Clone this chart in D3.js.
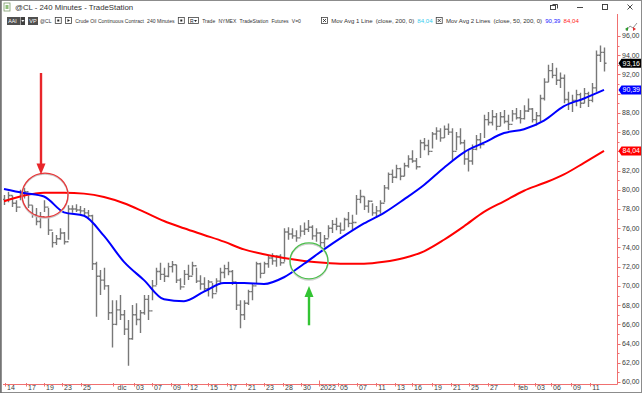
<!DOCTYPE html>
<html>
<head>
<meta charset="utf-8">
<script src="https://cdn.jsdelivr.net/npm/d3@7"></script>
<style>
  html, body { margin: 0; padding: 0; background: #fff; }
  svg { display: block; font-family: "Liberation Sans", Arial, sans-serif; }
</style>
</head>
<body>
<div id="chart"></div>
<script>
// 240 minute bars, @CL
const highs = [
  79.45, 79.8, 79.4, 78.9, 80.0, 80.2, 79.4, 78.4, 78.1, 77.7,
  78.9, 78.1, 75.6, 75.3, 76.0, 75.6, 78.4, 78.4, 78.5, 78.3,
  78.1, 77.9, 77.4, 72.5, 71.65, 71.9, 70.1, 68.5, 68.5, 69.05,
  67.5, 66.45, 68.0, 68.2, 67.5, 69.05, 69.05, 70.6, 71.9, 72.4,
  71.9, 72.4, 72.6, 72.2, 70.8, 71.65, 72.2, 72.5, 71.9, 71.1,
  70.9, 70.6, 70.3, 70.8, 71.9, 72.2, 72.5, 71.65, 70.3, 68.5,
  68.5, 69.6, 70.3, 72.5, 72.4, 72.5, 73.2, 73.4, 73.2, 73.3,
  76.0, 76.1, 76.0, 75.8, 76.3, 76.6, 76.85, 76.3, 76.0, 75.6,
  75.3, 76.3, 76.85, 77.1, 76.6, 77.1, 77.7, 77.4, 79.45, 80.0,
  79.3, 78.9, 78.6, 78.3, 78.9, 80.5, 81.8, 82.1, 82.6, 82.3,
  82.8, 83.6, 84.1, 83.3, 85.2, 85.4, 85.2, 86.0, 86.5, 86.4,
  86.7, 86.9, 86.4, 86.0, 86.4, 85.2, 84.1, 84.7, 85.7, 85.9,
  87.8, 88.1, 88.3, 88.0, 88.1, 88.3, 87.8, 88.3, 88.5, 88.3,
  88.8, 89.5, 88.5, 88.1, 89.9, 91.6, 93.0, 93.2, 92.7, 92.2,
  92.0, 90.2, 89.9, 90.4, 90.1, 90.6, 90.2, 91.1, 94.5, 95.0,
  94.8
];
const lows = [
  78.41, 78.7, 78.2, 77.7, 78.9, 79.1, 78.1, 77.1, 76.3, 76.0,
  77.7, 75.3, 74.0, 74.25, 74.8, 74.3, 74.8, 77.6, 77.7, 77.5,
  77.3, 77.1, 71.65, 66.8, 69.05, 69.6, 66.45, 63.6, 65.9, 66.45,
  64.9, 61.7, 64.4, 65.9, 65.1, 67.0, 66.45, 68.5, 70.1, 70.6,
  70.4, 70.9, 71.4, 70.3, 69.6, 70.1, 70.6, 71.1, 70.3, 69.6,
  69.4, 68.9, 68.7, 69.3, 70.3, 70.8, 71.1, 70.1, 67.5, 65.6,
  66.45, 68.0, 68.5, 70.3, 70.8, 71.3, 71.9, 72.2, 72.0, 72.1,
  72.5, 74.8, 74.9, 74.6, 75.1, 75.3, 75.6, 74.8, 74.6, 74.1,
  74.0, 75.0, 75.5, 75.8, 75.4, 75.8, 76.1, 75.8, 77.4, 78.6,
  77.9, 77.6, 77.3, 77.1, 77.5, 78.7, 80.0, 80.7, 81.2, 81.0,
  81.4, 82.3, 82.8, 82.1, 83.3, 84.1, 83.6, 84.3, 85.2, 85.0,
  85.4, 85.7, 83.1, 84.1, 84.7, 82.6, 81.9, 82.6, 84.1, 84.3,
  85.4, 86.7, 86.7, 86.2, 86.6, 86.9, 86.2, 87.1, 87.3, 86.9,
  87.3, 88.1, 87.0, 86.7, 87.1, 89.3, 91.2, 91.6, 90.9, 90.6,
  89.0, 88.3, 88.1, 88.7, 88.5, 89.0, 88.6, 89.1, 90.2, 93.3,
  92.3
];
const closes = [
  78.9, 79.4, 78.6, 78.2, 79.6, 79.8, 78.4, 77.4, 76.7, 77.2,
  78.2, 75.8, 74.5, 74.9, 75.5, 74.6, 78.0, 78.0, 77.9, 77.8,
  77.6, 77.3, 72.3, 71.0, 70.6, 70.0, 67.2, 66.0, 67.5, 67.0,
  65.5, 64.5, 67.0, 66.5, 67.2, 68.6, 67.4, 70.0, 71.5, 71.2,
  71.0, 72.0, 72.2, 70.6, 69.9, 71.2, 71.0, 72.1, 70.5, 70.2,
  69.7, 70.4, 69.2, 70.5, 71.4, 71.8, 71.5, 70.4, 68.0, 67.0,
  68.2, 69.4, 70.0, 72.3, 71.3, 72.3, 72.9, 72.6, 73.1, 72.4,
  75.6, 75.4, 75.2, 75.0, 75.7, 75.9, 76.1, 75.2, 75.5, 74.5,
  74.9, 76.0, 76.4, 76.2, 75.8, 76.9, 76.5, 76.6, 79.0, 79.3,
  78.3, 78.8, 77.6, 77.8, 78.6, 80.2, 81.6, 81.3, 82.2, 81.4,
  82.5, 83.2, 83.0, 82.4, 84.9, 84.6, 84.0, 85.8, 86.1, 85.4,
  86.3, 86.0, 84.0, 85.5, 84.9, 83.2, 83.0, 84.2, 85.2, 84.7,
  87.3, 87.0, 87.6, 86.6, 87.6, 87.1, 86.8, 87.9, 87.5, 87.4,
  88.2, 88.4, 87.3, 87.7, 89.5, 91.2, 92.4, 91.9, 91.4, 91.6,
  89.4, 89.0, 89.3, 89.9, 89.0, 90.0, 89.3, 90.6, 94.0, 94.3,
  93.16
];
const firstOpen = 79.0;

// moving averages, sampled every 5 bars
const maStep = 5;
const ma50 = [80.08, 79.66, 79.3, 77.65, 77.3, 75.2, 72.5, 70.6, 68.6, 68.4,
  69.4, 70.3, 70.3, 70.2, 70.9, 72.3, 73.8, 75.2, 76.5, 77.6,
  79.0, 80.5, 82.3, 83.9, 84.9, 85.9, 86.3, 87.2, 88.7, 89.5, 90.39];
const ma200 = [78.8, 79.4, 79.7, 79.7, 79.6, 79.25, 78.6, 77.7, 76.75, 76.0,
  75.3, 74.6, 73.8, 73.3, 72.9, 72.6, 72.4, 72.3, 72.3, 72.5,
  72.9, 73.6, 74.8, 76.2, 77.7, 78.8, 79.9, 80.7, 81.6, 82.8, 84.04];

// date labels on the time axis (bar index of each label)
const dateLabels = ["14", "17", "19", "23", "25", "dic", "03", "07", "09", "12", "15", "17", "21", "23", "28", "30",
  "2022", "05", "07", "11", "13", "16", "19", "21", "25", "27", "feb", "03", "06", "09", "11"];
const dateIdx = [1.75, 7, 11.5, 16, 20.75, 29.5, 34, 38.5, 43.25, 47.5, 52.5, 57.25, 62, 66.5, 71.25, 75.75,
  81, 85, 89.75, 94.5, 99.25, 103.5, 108.5, 113.25, 117.75, 122.5, 129.75, 134.25, 138.25, 143.25, 148];

const priceTicks = d3.range(60, 97, 2);
const lastValues = [
  { v: 93.16, fill: "#000" },
  { v: 90.39, fill: "#0000ff" },
  { v: 84.04, fill: "#ff0000" }
];

// header strip: symbol info and the two indicator legends
const symbolItems = ["@CL", "[dot]", "[play]", "Crude Oil Continuous Contract", "240 Minutes", "[dot]", "[R]",
  "Trade", "NYMEX", "TradeStation", "Futures", "V=0"];
const studyItems = ["[x]", "Mov Avg 1 Line", "(close, 200, 0)", "84,04", "[x]", "Mov Avg 2 Lines",
  "(close, 50, 200, 0)", "90,39", "84,04"];
const studyColors = { 3: "#33ccee", 7: "#2222ff", 8: "#ff2222" };

const width = 642, height = 393;
const axisX = 617.5, axisY = 384.5;

const x = d3.scaleLinear().domain([0, closes.length - 1]).range([4, 604]);
const y = d3.scaleLinear().domain([60, 96]).range([382, 36]);
const fmt = v => d3.format(".2f")(v).replace(".", ",");

const svg = d3.select("#chart").append("svg")
  .attr("width", width)
  .attr("height", height);

svg.append("rect").attr("width", width).attr("height", height).attr("fill", "#fff");

svg.append("defs").append("clipPath").attr("id", "plot")
  .append("rect").attr("x", 3).attr("y", 14).attr("width", axisX - 3).attr("height", axisY - 14);

const plot = svg.append("g").attr("clip-path", "url(#plot)");

// price bars
const bars = plot.append("g").attr("stroke", "#787878").attr("stroke-width", 1.4);
closes.forEach((c, i) => {
  const o = i === 0 ? firstOpen : closes[i - 1];
  const cx = Math.round(x(i)) + 0.5;
  bars.append("line").attr("x1", cx).attr("x2", cx).attr("y1", y(highs[i])).attr("y2", y(lows[i]));
  bars.append("line").attr("x1", cx - 2).attr("x2", cx).attr("y1", y(o)).attr("y2", y(o));
  bars.append("line").attr("x1", cx).attr("x2", cx + 2).attr("y1", y(c)).attr("y2", y(c));
});

// moving averages
const maLine = d3.line()
  .x((d, i) => x(i * maStep))
  .y(d => y(d))
  .curve(d3.curveMonotoneX);

plot.append("path").datum(ma200)
  .attr("d", maLine).attr("fill", "none")
  .attr("stroke", "#ff0000").attr("stroke-width", 2);
plot.append("path").datum(ma50)
  .attr("d", maLine).attr("fill", "none")
  .attr("stroke", "#0000ff").attr("stroke-width", 2);

// annotations
const redArrow = { i: 9.25, from: 92.15, to: 81.6 };
const redRing = { i: 10.25, p: 79.45, rx: 23, ry: 22 };
const greenRing = { i: 76.25, p: 72.6, rx: 19, ry: 18 };
const greenArrow = { i: 76.25, from: 65.9, to: 70.0 };

const ann = svg.append("g");
ann.append("ellipse")
  .attr("cx", x(redRing.i)).attr("cy", y(redRing.p) + 1)
  .attr("rx", redRing.rx).attr("ry", redRing.ry)
  .attr("fill", "none").attr("stroke", "#c8c8c8").attr("stroke-width", 1.5);
ann.append("ellipse")
  .attr("cx", x(redRing.i)).attr("cy", y(redRing.p))
  .attr("rx", redRing.rx).attr("ry", redRing.ry)
  .attr("fill", "none").attr("stroke", "#e8383a").attr("stroke-width", 1.3);
ann.append("ellipse")
  .attr("cx", x(greenRing.i)).attr("cy", y(greenRing.p) + 1)
  .attr("rx", greenRing.rx).attr("ry", greenRing.ry)
  .attr("fill", "none").attr("stroke", "#d0d0d0").attr("stroke-width", 1.5);
ann.append("ellipse")
  .attr("cx", x(greenRing.i)).attr("cy", y(greenRing.p))
  .attr("rx", greenRing.rx).attr("ry", greenRing.ry)
  .attr("fill", "none").attr("stroke", "#4cbf4c").attr("stroke-width", 1.3);

function arrow(spec, color) {
  const ax = x(spec.i);
  const y0 = y(spec.from), y1 = y(spec.to);
  const dir = y1 > y0 ? 1 : -1;
  const headLen = 11, headW = 4.5;
  ann.append("line")
    .attr("x1", ax).attr("x2", ax)
    .attr("y1", y0).attr("y2", y1 - dir * headLen + dir * 1)
    .attr("stroke", color).attr("stroke-width", 2.4);
  ann.append("path")
    .attr("d", `M${ax - headW},${y1 - dir * headLen} L${ax + headW},${y1 - dir * headLen} L${ax},${y1} Z`)
    .attr("fill", color);
}
arrow(redArrow, "#e8262a");
arrow(greenArrow, "#33c433");

// axes
const axisColor = "#f07070";
const labelColor = "#3a3a3a";
svg.append("line").attr("x1", axisX).attr("x2", axisX).attr("y1", 14).attr("y2", axisY)
  .attr("stroke", axisColor).attr("stroke-width", 1);
svg.append("line").attr("x1", 3).attr("x2", axisX).attr("y1", axisY).attr("y2", axisY)
  .attr("stroke", axisColor).attr("stroke-width", 1);

const yAxis = svg.append("g");
d3.range(60, 97, 1).forEach(v => {
  const major = v % 2 === 0;
  yAxis.append("line")
    .attr("x1", axisX).attr("x2", axisX + (major ? 3 : 2))
    .attr("y1", Math.round(y(v)) + 0.5).attr("y2", Math.round(y(v)) + 0.5)
    .attr("stroke", axisColor);
});
// labels hidden under a last-value flag are not drawn
const visibleTicks = priceTicks.filter(t => lastValues.every(d => Math.abs(y(t) - y(d.v)) > 8));
yAxis.selectAll("text").data(visibleTicks).enter().append("text")
  .attr("x", axisX + 4.5).attr("y", d => y(d))
  .attr("dy", "0.35em")
  .style("font-size", "7px")
  .style("fill", labelColor)
  .text(d => fmt(d));

// last value flags
const flags = svg.append("g");
lastValues.forEach(d => {
  const fy = y(d.v);
  flags.append("path")
    .attr("d", `M${axisX + 1},${fy} L${axisX + 4},${fy - 4.5} L${width - 1},${fy - 4.5} L${width - 1},${fy + 4.5} L${axisX + 4},${fy + 4.5} Z`)
    .attr("fill", d.fill);
  flags.append("text")
    .attr("x", axisX + 5).attr("y", fy).attr("dy", "0.35em")
    .style("font-size", "7px").style("fill", "#fff")
    .text(fmt(d.v));
});

// time axis
const xAxis = svg.append("g");
dateLabels.forEach((lab, k) => {
  const tx = x(dateIdx[k]);
  const tickX = Math.round(tx - (lab.length > 2 ? 9 : 6)) + 0.5;
  xAxis.append("line")
    .attr("x1", tickX).attr("x2", tickX)
    .attr("y1", lab === "2022" ? axisY - 4 : axisY - 1.5).attr("y2", axisY + 2)
    .attr("stroke", axisColor);
  xAxis.append("text")
    .attr("x", tx).attr("y", axisY + 5.5)
    .attr("text-anchor", "middle")
    .style("font-size", "7px")
    .style("fill", labelColor)
    .text(lab);
});

// window title bar
const titleBar = svg.append("g");
titleBar.append("rect").attr("x", 4).attr("y", 3).attr("width", 6).attr("height", 8)
  .attr("fill", "#fff").attr("stroke", "#7a9a6a").attr("stroke-width", 0.8);
titleBar.append("rect").attr("x", 5.5).attr("y", 5).attr("width", 3).attr("height", 4).attr("fill", "#8fc07a");
titleBar.append("text").attr("x", 15).attr("y", 7).attr("dy", "0.35em")
  .style("fill", "#333").style("font-size", "7.8px")
  .text("@CL - 240 Minutes - TradeStation");

// window controls
const wc = svg.append("g").attr("stroke", "#333").attr("fill", "none").attr("stroke-width", 0.9);
wc.append("rect").attr("x", 550.5).attr("y", 5.5).attr("width", 5).attr("height", 4);
wc.append("path").attr("d", "M552.5,4.5 H557.5 V8.5");
wc.append("line").attr("x1", 577).attr("x2", 583).attr("y1", 7.5).attr("y2", 7.5);
wc.append("rect").attr("x", 602.5).attr("y", 4.5).attr("width", 5).attr("height", 5);
wc.append("path").attr("d", "M627.5,4.5 L632.5,9.5 M632.5,4.5 L627.5,9.5");

// toolbar row
const tb = svg.append("g");
const tbY = 21;
tb.append("rect").attr("x", 7).attr("y", tbY - 4).attr("width", 13).attr("height", 8).attr("fill", "#505050");
tb.append("rect").attr("x", 20.5).attr("y", tbY - 4).attr("width", 4.5).attr("height", 8).attr("fill", "#404040");
tb.append("path").attr("d", `M21.3,${tbY - 1} h3 l-1.5,2 z`).attr("fill", "#fff");
tb.append("text").attr("x", 8.3).attr("y", tbY).attr("dy", "0.35em").style("font-size", "5.2px").style("fill", "#fff").text("AAI");
tb.append("rect").attr("x", 28).attr("y", tbY - 4).attr("width", 10).attr("height", 8).attr("fill", "#505050");
tb.append("text").attr("x", 29.3).attr("y", tbY).attr("dy", "0.35em").style("font-size", "5.5px").style("fill", "#fff").text("VP");

function drawBox(g, bx, kind) {
  if (kind === "[R]") {
    g.append("rect").attr("x", bx + 0.5).attr("y", tbY - 3.5).attr("width", 10).attr("height", 6)
      .attr("fill", "#fff").attr("stroke", "#444").attr("stroke-width", 0.8);
    g.append("text").attr("x", bx + 2).attr("y", tbY).attr("dy", "0.35em").style("font-size", "5px").style("fill", "#222").text("R");
    g.append("path").attr("d", `M${bx + 6},${tbY - 1} h3 l-1.5,2 z`).attr("fill", "#222");
    return 11;
  }
  g.append("rect").attr("x", bx + 0.5).attr("y", tbY - 3.5).attr("width", 6).attr("height", 6)
    .attr("fill", "#fff").attr("stroke", "#444").attr("stroke-width", 0.8);
  if (kind === "[x]") {
    g.append("path").attr("d", `M${bx + 2},${tbY - 2} l3,3 M${bx + 5},${tbY - 2} l-3,3`)
      .attr("stroke", "#222").attr("stroke-width", 0.8);
  } else if (kind === "[play]") {
    g.append("path").attr("d", `M${bx + 2.5},${tbY - 2} l2.5,1.5 l-2.5,1.5 z`).attr("fill", "#222");
  } else {
    g.append("rect").attr("x", bx + 2.5).attr("y", tbY - 1.5).attr("width", 2).attr("height", 2).attr("fill", "#222");
  }
  return 7;
}

// lay out one run of items between x0 and x1 with a shared font size
function flow(items, x0, x1, colors) {
  const g = tb.append("g");
  const gap = 3.2;
  let size = 6.6;
  const texts = items.map((it, k) => it.startsWith("[") ? null :
    g.append("text").attr("y", tbY).attr("dy", "0.35em").style("font-size", size + "px")
      .style("fill", (colors && colors[k]) || "#333").text(it));
  const boxW = it => it === "[R]" ? 11 : 7;
  const textW = texts.reduce((s, t) => s + (t ? t.node().getComputedTextLength() : 0), 0);
  const fixedW = items.reduce((s, it) => s + (it.startsWith("[") ? boxW(it) : 0), 0) + gap * (items.length - 1);
  const k = Math.min(1, (x1 - x0 - fixedW) / textW);
  size = size * k;
  let cx = x0;
  items.forEach((it, i) => {
    if (texts[i]) {
      texts[i].style("font-size", size.toFixed(2) + "px").attr("x", cx);
      cx += texts[i].node().getComputedTextLength() + gap;
    } else {
      cx += drawBox(g, cx, it) + gap;
    }
  });
}
flow(symbolItems, 40, 301);
flow(studyItems, 321, 579, studyColors);

// small chart icon top right
const ic = svg.append("g");
ic.append("path").attr("d", "M626,31 L630,26 L633,28 L637,23").attr("fill", "none").attr("stroke", "#777").attr("stroke-width", 0.8);
ic.append("path").attr("d", "M625,29 l3,-2 v4 z").attr("fill", "#2a9a2a");
ic.append("path").attr("d", "M636,29 l-3,-2 v4 z").attr("fill", "#e03030");

// window frame
svg.append("rect").attr("x", 0.5).attr("y", 0.5).attr("width", width - 1).attr("height", height - 1)
  .attr("fill", "none").attr("stroke", "#8c8c8c").attr("stroke-width", 1);
svg.append("line").attr("x1", 1).attr("x2", 1).attr("y1", 0).attr("y2", height)
  .attr("stroke", "#6e6e6e").attr("stroke-width", 1.5);
</script>
</body>
</html>
